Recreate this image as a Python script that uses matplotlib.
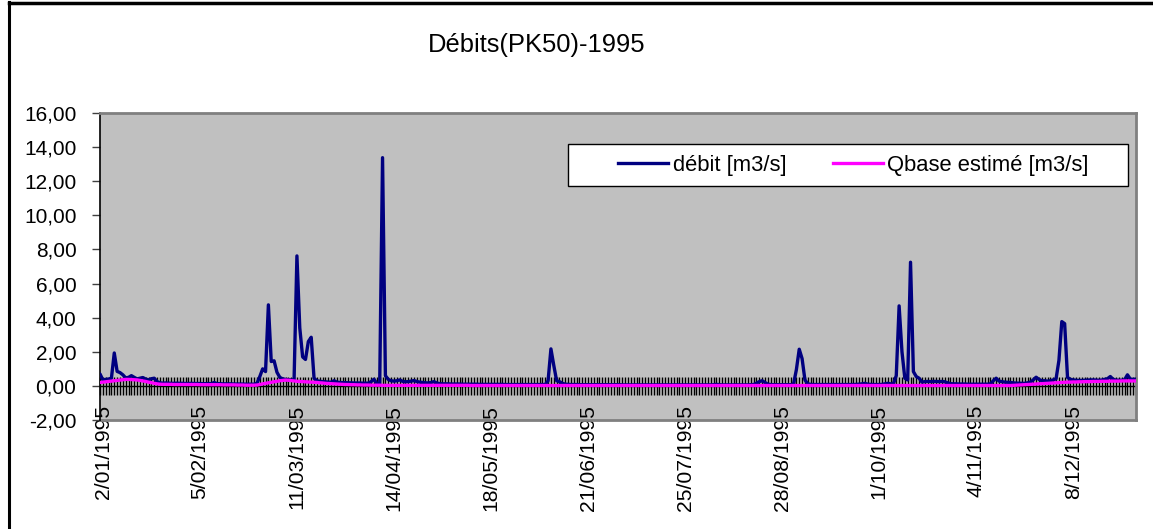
import numpy as np
import matplotlib
matplotlib.use("Agg")
import matplotlib.pyplot as plt
import matplotlib.dates as mdates
import matplotlib.transforms as mtransforms
from matplotlib.lines import Line2D
from matplotlib.patches import Rectangle
import datetime as dt

plt.rcParams['font.family'] = ['Liberation Sans', 'DejaVu Sans']

title = "Débits(PK50)-1995"
series_names = ["débit [m3/s]", "Qbase estimé [m3/s]"]
start_date = "1995-01-02"
tick_dates = ["1995-01-02", "1995-02-05", "1995-03-11", "1995-04-14", "1995-05-18",
              "1995-06-21", "1995-07-25", "1995-08-28", "1995-10-01", "1995-11-04",
              "1995-12-08"]
tick_labels = ["2/01/1995", "5/02/1995", "11/03/1995", "14/04/1995", "18/05/1995",
               "21/06/1995", "25/07/1995", "28/08/1995", "1/10/1995", "4/11/1995",
               "8/12/1995"]
y_ticks = [-2, 0, 2, 4, 6, 8, 10, 12, 14, 16]

# daily discharge, 2 Jan 1995 -> 31 Dec 1995
debit = [
    0.70, 0.35, 0.38, 0.40, 0.45, 1.93, 0.85, 0.78, 0.65, 0.47,
    0.50, 0.60, 0.50, 0.41, 0.45, 0.49, 0.40, 0.35, 0.42, 0.45,
    0.25, 0.18, 0.16, 0.17, 0.16, 0.15, 0.15, 0.16, 0.15, 0.15,
    0.14, 0.14, 0.15, 0.14, 0.14, 0.14, 0.13, 0.13, 0.14, 0.13,
    0.20, 0.13, 0.13, 0.12, 0.12, 0.12, 0.12, 0.11, 0.11, 0.11,
    0.11, 0.10, 0.10, 0.10, 0.10, 0.15, 0.55, 1.00, 0.84, 4.75,
    1.43, 1.47, 0.80, 0.50, 0.41, 0.38, 0.36, 0.35, 0.35, 7.62,
    3.40, 1.70, 1.55, 2.60, 2.85, 0.45, 0.30, 0.27, 0.25, 0.24,
    0.22, 0.22, 0.30, 0.22, 0.20, 0.19, 0.19, 0.18, 0.18, 0.17,
    0.17, 0.17, 0.16, 0.16, 0.16, 0.25, 0.39, 0.15, 0.05, 13.38,
    0.60, 0.38, 0.30, 0.28, 0.30, 0.35, 0.27, 0.24, 0.25, 0.28,
    0.31, 0.26, 0.22, 0.20, 0.18, 0.17, 0.20, 0.25, 0.17, 0.13,
    0.12, 0.12, 0.12, 0.11, 0.11, 0.11, 0.11, 0.10, 0.10, 0.10,
    0.10, 0.10, 0.10, 0.09, 0.09, 0.09, 0.09, 0.09, 0.09, 0.09,
    0.09, 0.09, 0.08, 0.08, 0.08, 0.08, 0.08, 0.08, 0.08, 0.08,
    0.08, 0.08, 0.08, 0.08, 0.08, 0.08, 0.08, 0.30, 2.17, 1.20,
    0.30, 0.25, 0.15, 0.10, 0.09, 0.08, 0.08, 0.08, 0.07, 0.07,
    0.07, 0.07, 0.07, 0.07, 0.07, 0.07, 0.07, 0.07, 0.07, 0.07,
    0.07, 0.07, 0.07, 0.06, 0.06, 0.06, 0.06, 0.06, 0.06, 0.06,
    0.06, 0.06, 0.06, 0.06, 0.06, 0.06, 0.06, 0.06, 0.06, 0.06,
    0.06, 0.06, 0.06, 0.06, 0.06, 0.06, 0.06, 0.06, 0.06, 0.06,
    0.06, 0.06, 0.06, 0.06, 0.06, 0.07, 0.09, 0.07, 0.06, 0.06,
    0.06, 0.06, 0.06, 0.06, 0.06, 0.06, 0.06, 0.06, 0.07, 0.08,
    0.15, 0.25, 0.30, 0.20, 0.10, 0.08, 0.07, 0.07, 0.07, 0.07,
    0.07, 0.07, 0.07, 0.10, 0.95, 2.15, 1.60, 0.35, 0.12, 0.09,
    0.08, 0.08, 0.08, 0.08, 0.08, 0.08, 0.08, 0.08, 0.08, 0.08,
    0.08, 0.08, 0.08, 0.08, 0.08, 0.09, 0.10, 0.12, 0.15, 0.10,
    0.09, 0.08, 0.08, 0.08, 0.09, 0.12, 0.15, 0.12, 0.12, 0.60,
    4.69, 2.00, 0.45, 0.35, 7.25, 0.84, 0.55, 0.45, 0.22, 0.25,
    0.26, 0.25, 0.26, 0.26, 0.25, 0.26, 0.24, 0.18, 0.13, 0.12,
    0.12, 0.11, 0.11, 0.11, 0.10, 0.10, 0.10, 0.10, 0.10, 0.10,
    0.10, 0.10, 0.12, 0.30, 0.45, 0.28, 0.25, 0.22, 0.21, 0.20,
    0.18, 0.16, 0.16, 0.15, 0.15, 0.18, 0.22, 0.35, 0.51, 0.38,
    0.30, 0.30, 0.28, 0.30, 0.35, 0.42, 1.50, 3.77, 3.65, 0.50,
    0.38, 0.35, 0.33, 0.32, 0.32, 0.33, 0.34, 0.35, 0.35, 0.34,
    0.33, 0.34, 0.38, 0.42, 0.55, 0.38, 0.34, 0.33, 0.33, 0.36,
    0.65, 0.40, 0.38, 0.40,
]

# estimated base flow, same days
qbase = [
    0.20, 0.22, 0.24, 0.26, 0.28, 0.30, 0.32, 0.34, 0.36, 0.38,
    0.38, 0.37, 0.36, 0.35, 0.32, 0.29, 0.26, 0.22, 0.19, 0.15,
    0.12, 0.10, 0.09, 0.09, 0.09, 0.09, 0.08, 0.08, 0.08, 0.08,
    0.08, 0.08, 0.08, 0.08, 0.08, 0.07, 0.07, 0.07, 0.07, 0.07,
    0.07, 0.07, 0.07, 0.06, 0.06, 0.06, 0.06, 0.06, 0.05, 0.05,
    0.05, 0.04, 0.04, 0.04, 0.04, 0.05, 0.08, 0.12, 0.15, 0.18,
    0.21, 0.24, 0.27, 0.30, 0.32, 0.34, 0.33, 0.31, 0.29, 0.27,
    0.26, 0.25, 0.24, 0.23, 0.22, 0.21, 0.20, 0.18, 0.17, 0.15,
    0.14, 0.13, 0.12, 0.11, 0.10, 0.09, 0.08, 0.08, 0.07, 0.07,
    0.06, 0.06, 0.05, 0.05, 0.05, 0.04, 0.04, 0.04, 0.04, 0.03,
    0.03, 0.03, 0.03, 0.03, 0.03, 0.03, 0.03, 0.03, 0.03, 0.03,
    0.03, 0.03, 0.03, 0.03, 0.03, 0.03, 0.03, 0.03, 0.03, 0.03,
    0.03, 0.03, 0.03, 0.03, 0.03, 0.03, 0.03, 0.03, 0.03, 0.03,
    0.02, 0.02, 0.02, 0.02, 0.02, 0.02, 0.02, 0.02, 0.02, 0.02,
    0.02, 0.02, 0.02, 0.02, 0.02, 0.02, 0.02, 0.02, 0.02, 0.02,
    0.02, 0.02, 0.02, 0.02, 0.02, 0.02, 0.02, 0.02, 0.02, 0.02,
    0.02, 0.02, 0.02, 0.02, 0.02, 0.02, 0.02, 0.02, 0.02, 0.02,
    0.02, 0.02, 0.02, 0.02, 0.02, 0.02, 0.02, 0.02, 0.02, 0.02,
    0.02, 0.02, 0.02, 0.02, 0.02, 0.02, 0.02, 0.02, 0.02, 0.02,
    0.02, 0.02, 0.02, 0.02, 0.02, 0.02, 0.02, 0.02, 0.02, 0.02,
    0.02, 0.02, 0.02, 0.02, 0.02, 0.02, 0.02, 0.02, 0.02, 0.02,
    0.02, 0.02, 0.02, 0.02, 0.02, 0.02, 0.02, 0.02, 0.02, 0.02,
    0.02, 0.02, 0.02, 0.02, 0.02, 0.02, 0.02, 0.02, 0.02, 0.02,
    0.02, 0.02, 0.02, 0.02, 0.02, 0.02, 0.02, 0.02, 0.02, 0.02,
    0.02, 0.02, 0.02, 0.02, 0.02, 0.02, 0.02, 0.02, 0.02, 0.02,
    0.02, 0.02, 0.02, 0.02, 0.02, 0.02, 0.02, 0.02, 0.02, 0.02,
    0.02, 0.02, 0.02, 0.02, 0.02, 0.02, 0.02, 0.02, 0.02, 0.02,
    0.02, 0.02, 0.02, 0.02, 0.02, 0.02, 0.02, 0.02, 0.02, 0.02,
    0.02, 0.02, 0.02, 0.02, 0.02, 0.02, 0.02, 0.02, 0.02, 0.02,
    0.02, 0.02, 0.02, 0.02, 0.02, 0.02, 0.02, 0.02, 0.02, 0.02,
    0.02, 0.02, 0.02, 0.02, 0.02, 0.02, 0.02, 0.02, 0.02, 0.02,
    0.02, 0.02, 0.02, 0.02, 0.02, 0.02, 0.02, 0.02, 0.02, 0.02,
    0.03, 0.04, 0.05, 0.06, 0.07, 0.08, 0.09, 0.10, 0.11, 0.12,
    0.13, 0.14, 0.15, 0.16, 0.17, 0.18, 0.19, 0.20, 0.21, 0.22,
    0.22, 0.23, 0.23, 0.24, 0.24, 0.25, 0.25, 0.25, 0.26, 0.26,
    0.26, 0.27, 0.27, 0.27, 0.28, 0.28, 0.28, 0.28, 0.29, 0.29,
    0.29, 0.29, 0.29, 0.29,
]

W, H = 1153, 529
fig = plt.figure(figsize=(W / 100, H / 100), dpi=100)
fig.patch.set_facecolor("white")

L, R, T, B = 100, 1136, 113, 420
ax = fig.add_axes([L / W, 1 - B / H, (R - L) / W, (B - T) / H])
ax.set_facecolor("#C0C0C0")

d0 = np.datetime64(start_date)
days_deb = (d0 + np.arange(len(debit)).astype("timedelta64[D]")).astype(dt.date)
days_qb = (d0 + np.arange(len(qbase)).astype("timedelta64[D]")).astype(dt.date)

LW = 2.4
ax.plot(days_deb, debit, color="#000080", lw=LW, solid_joinstyle="round",
        solid_capstyle="round", zorder=3)
ax.plot(days_qb, qbase, color="#FF00FF", lw=LW, solid_joinstyle="round",
        solid_capstyle="round", zorder=4)

ax.set_ylim(-2, 16)
ax.set_xlim(days_deb[0], days_deb[-1])
ax.set_yticks(y_ticks)
ax.set_yticklabels([f"{v:.2f}".replace(".", ",") for v in y_ticks])
ax.tick_params(axis="y", direction="out", length=6, width=1, color="#404040",
               pad=11, labelsize=15, labelcolor="black")

# x axis crossing at 0, daily cross ticks
ax.spines["bottom"].set_position(("data", 0))
ax.spines["bottom"].set_color("black")
ax.spines["bottom"].set_linewidth(1)
ax.spines["bottom"].set_zorder(2)
ax.xaxis.set_major_locator(mdates.DayLocator(interval=1))
ax.tick_params(axis="x", direction="inout", length=13, width=1, color="black",
               labelbottom=False)

ax.spines["left"].set_color("black")
ax.spines["left"].set_linewidth(1.2)
for s in ("top", "right"):
    ax.spines[s].set_color("#808080")
    ax.spines[s].set_linewidth(2)

# date labels at plot bottom
sec = ax.secondary_xaxis("bottom")
sec.spines["bottom"].set_color("#808080")
sec.spines["bottom"].set_linewidth(2)
tick_d = [dt.date.fromisoformat(s) for s in tick_dates]
sec.set_xticks(mdates.date2num(tick_d))
sec.set_xticklabels(tick_labels, rotation=90, fontsize=15.2, va="top", ha="center")
sec.tick_params(axis="x", length=0, pad=-11)
offset = mtransforms.ScaledTranslation(3 / 100, 0, fig.dpi_scale_trans)
for lab in sec.get_xticklabels():
    lab.set_transform(lab.get_transform() + offset)

# legend box
lx0, lx1, ly0, ly1 = 568, 1128, 144, 186
fig.add_artist(Rectangle((lx0 / W, 1 - ly1 / H), (lx1 - lx0) / W, (ly1 - ly0) / H,
                         transform=fig.transFigure, facecolor="white",
                         edgecolor="black", lw=1, zorder=5))
handles = [Line2D([], [], color="#000080", lw=LW),
           Line2D([], [], color="#FF00FF", lw=LW)]
LFS = 15.8
leg = fig.legend(handles, series_names, loc="center left",
                 bbox_to_anchor=(618 / W, 1 - ((ly0 + ly1) / 2) / H),
                 ncol=2, fontsize=LFS, frameon=False, borderpad=0, borderaxespad=0,
                 handlelength=2.3, handletextpad=0.2, columnspacing=2.1)
leg.set_zorder(6)

fig.text(536.5 / W, 1 - 52 / H, title, ha="center", va="baseline", fontsize=18.4)

# chart-area border
fig.add_artist(Line2D([8.5 / W, 8.5 / W], [0, 1 - 2 / H], color="black", lw=2.2,
                      transform=fig.transFigure))
fig.add_artist(Line2D([8.5 / W, 1], [1 - 2.5 / H, 1 - 2.5 / H], color="black", lw=2.5,
                      transform=fig.transFigure))

fig.savefig("out.png", dpi=100)
